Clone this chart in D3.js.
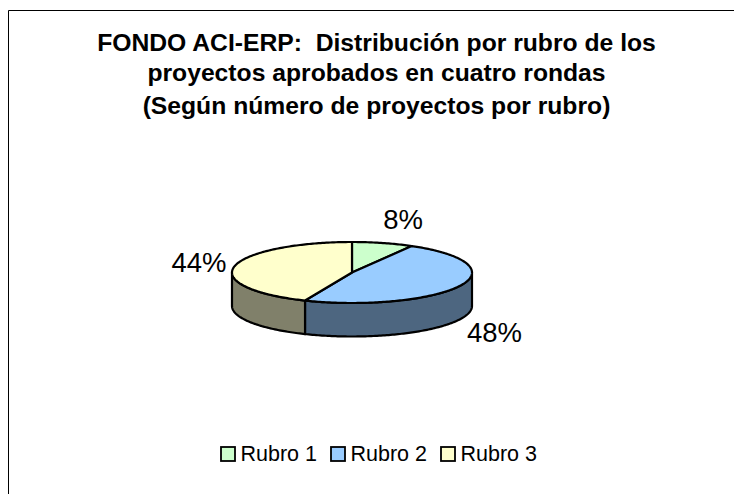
<!DOCTYPE html>
<html><head><meta charset="utf-8">
<script src="https://cdn.jsdelivr.net/npm/d3@7"></script>
<style>html,body{margin:0;padding:0;background:#fff}svg{display:block}text{font-family:"Liberation Sans",Arial,sans-serif;fill:#000}</style>
</head><body><svg id="c" width="734" height="494"></svg>
<script>
const categories = ["Rubro 1","Rubro 2","Rubro 3"];
const values = [8.3,48.1,43.6];
const topColors = ["#CCFFCC","#99CCFF","#FFFFCC"];
const sideColors = ["#667F66","#4D6680","#80806A"];
const titleLines = ["FONDO ACI-ERP:  Distribución por rubro de los","proyectos aprobados en cuatro rondas","(Según número de proyectos por rubro)"];

const svg = d3.select("#c");
const cx=352, cy=272.5, rx=120, ry=30.5, depth=33.5;
const sx=d3.scaleLinear().domain([-1,1]).range([cx-rx,cx+rx]);
const sy=d3.scaleLinear().domain([-1,1]).range([cy-ry,cy+ry]);
const pie=d3.pie().sort(null)(values);
const line=d3.line().x(d=>d[0]).y(d=>d[1]);
const pt=(a,dz=0)=>[sx(Math.sin(a)),sy(-Math.cos(a))+dz];
const samples=(a0,a1,dz=0)=>{const n=Math.max(2,Math.ceil((a1-a0)*60));return d3.range(n+1).map(i=>pt(a0+(a1-a0)*i/n,dz));};

svg.append("path").attr("d",d3.line()([[8.5,494],[8.5,10.5],[734,10.5]])).attr("fill","none").attr("stroke","#000").attr("stroke-width",1);

const titleY=[51,81,114];
svg.append("g").selectAll("text").data(titleLines).join("text")
  .attr("x",376.5).attr("y",(d,i)=>titleY[i]).attr("text-anchor","middle")
  .attr("font-size",24.7).attr("font-weight","bold").attr("xml:space","preserve").text(d=>d);

const g=svg.append("g").attr("stroke","#000").attr("stroke-width",2.2).attr("stroke-linejoin","round");
pie.forEach((d,i)=>{
  const a0=Math.max(d.startAngle,Math.PI/2), a1=Math.min(d.endAngle,3*Math.PI/2);
  if(a1<=a0) return;
  const pts=samples(a0,a1).concat(samples(a0,a1,depth).reverse());
  g.append("path").attr("d",line(pts)+"Z").attr("fill",sideColors[i]);
});
pie.forEach((d,i)=>{
  g.append("path").attr("d",line([[cx,cy],...samples(d.startAngle,d.endAngle)])+"Z").attr("fill",topColors[i]);
});

const labelPos=[[403,229],[494.5,341.5],[199,272]];
svg.append("g").selectAll("text").data(values).join("text")
  .attr("x",(d,i)=>labelPos[i][0]).attr("y",(d,i)=>labelPos[i][1]).attr("text-anchor","middle")
  .attr("font-size",27.5).text(d=>Math.round(d)+"%");

const legX=[221,331,441];
const lg=svg.append("g").selectAll("g").data(categories).join("g");
lg.append("rect").attr("x",(d,i)=>legX[i]).attr("y",447).attr("width",14).attr("height",14)
  .attr("fill",(d,i)=>topColors[i]).attr("stroke","#000").attr("stroke-width",1.8);
lg.append("text").attr("x",(d,i)=>legX[i]+19.5).attr("y",461).attr("font-size",21.5).text(d=>d);
</script></body></html>
